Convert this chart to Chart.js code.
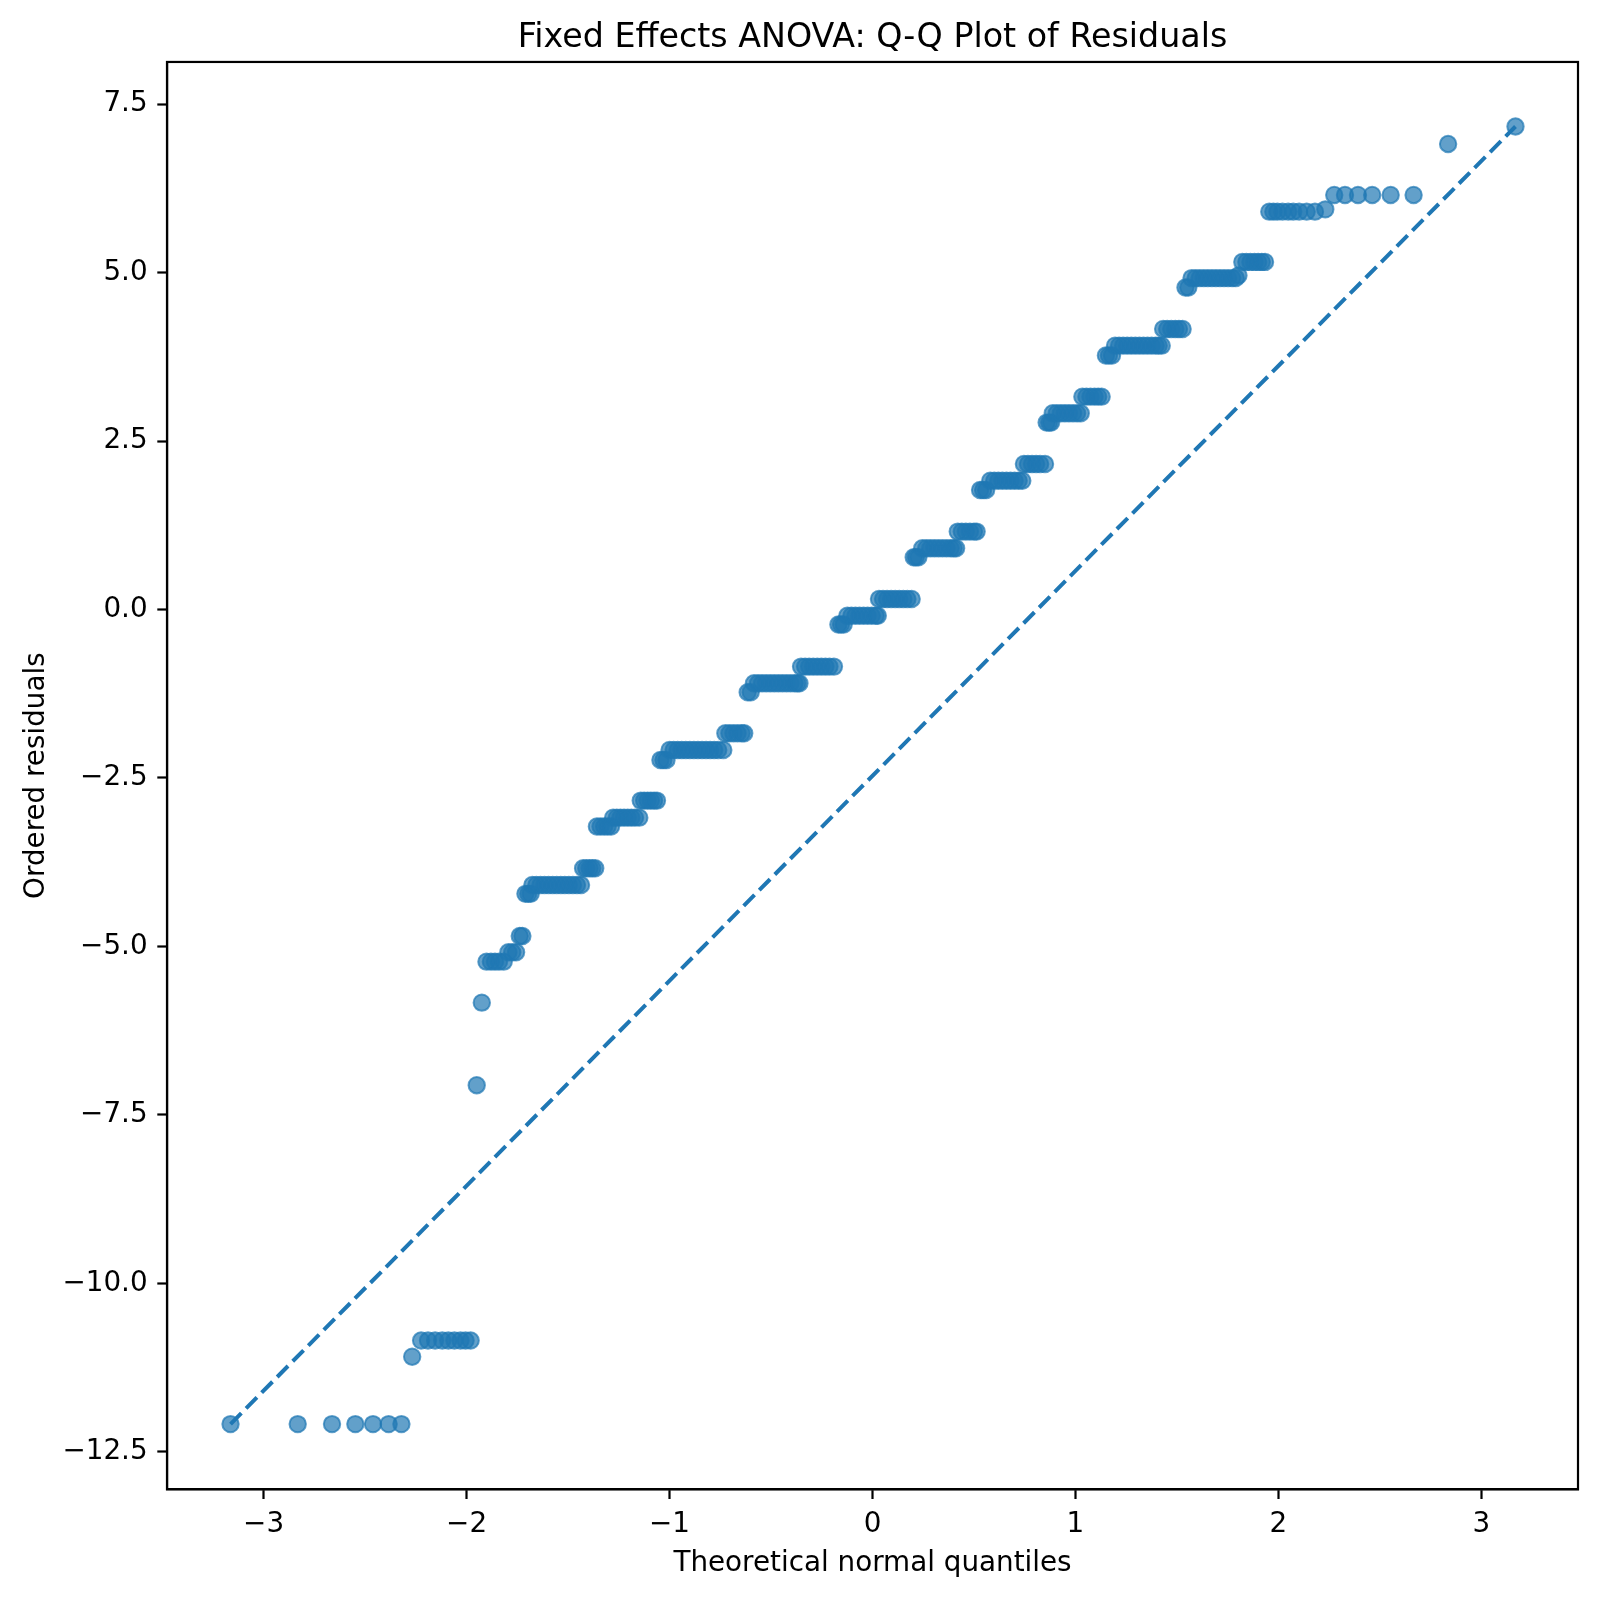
<!DOCTYPE html>
<html>
<head>
<meta charset="utf-8">
<script src="https://cdn.jsdelivr.net/npm/chart.js@4.4.1/dist/chart.umd.min.js"></script>
<style>
  html, body { margin: 0; padding: 0; background: #fff; }
  #wrap { width: 1600px; height: 1597px; }
</style>
</head>
<body>
<div id="wrap"><canvas id="qqChart" width="1600" height="1597"></canvas></div>
<script>
// ordered residual levels (the plateaus)
const residualLevels = [
  -12.09, -11.09, -10.85, -7.06, -5.835, -5.226, -5.087, -4.845, -4.22, -4.088,
  -3.84, -3.22, -3.089, -2.836, -2.232, -2.084, -1.837, -1.228, -1.094, -0.847,
  -0.222, -0.092, 0.157, 0.776, 0.91, 1.157, 1.775, 1.913, 2.161, 2.775,
  2.914, 3.16, 3.77, 3.917, 4.165, 4.78, 4.92, 4.96, 5.16, 5.906,
  5.94, 6.154, 6.91, 7.17
];

// theoretical normal quantiles of the points sitting on each level
const quantilesByLevel = [
  [-3.163, -2.832, -2.663, -2.548, -2.461, -2.384, -2.321],
  [-2.268],
  [-2.224, -2.19, -2.155, -2.12, -2.09, -2.06, -2.03, -2.005, -1.98],
  [-1.95],
  [-1.925],
  [-1.902, -1.88, -1.86, -1.84, -1.817],
  [-1.794, -1.775, -1.756],
  [-1.738, -1.725],
  [-1.71, -1.696, -1.684],
  [-1.676, -1.656, -1.636, -1.616, -1.596, -1.576, -1.556, -1.536, -1.516, -1.496, -1.476, -1.456, -1.436],
  [-1.426, -1.41, -1.394, -1.38, -1.366],
  [-1.358, -1.34, -1.322, -1.305, -1.288],
  [-1.278, -1.26, -1.242, -1.224, -1.206, -1.188, -1.17, -1.149],
  [-1.142, -1.125, -1.108, -1.092, -1.076, -1.062],
  [-1.045, -1.03, -1.015],
  [-1.0, -0.98, -0.96, -0.94, -0.92, -0.9, -0.88, -0.86, -0.84, -0.82, -0.8, -0.78, -0.76, -0.735],
  [-0.725, -0.705, -0.685, -0.665, -0.645, -0.632],
  [-0.615, -0.6],
  [-0.584, -0.564, -0.544, -0.524, -0.504, -0.484, -0.464, -0.444, -0.424, -0.404, -0.384, -0.37, -0.36],
  [-0.352, -0.332, -0.312, -0.292, -0.272, -0.252, -0.232, -0.212, -0.19],
  [-0.168, -0.155, -0.142],
  [-0.124, -0.104, -0.084, -0.064, -0.044, -0.024, -0.004, 0.016, 0.026],
  [0.032, 0.052, 0.072, 0.092, 0.112, 0.132, 0.152, 0.172, 0.193],
  [0.203, 0.214, 0.226],
  [0.245, 0.265, 0.285, 0.305, 0.325, 0.345, 0.365, 0.385, 0.4, 0.412],
  [0.42, 0.44, 0.46, 0.48, 0.5, 0.513],
  [0.53, 0.545, 0.56],
  [0.58, 0.6, 0.62, 0.64, 0.66, 0.68, 0.7, 0.72, 0.738],
  [0.746, 0.766, 0.786, 0.806, 0.826, 0.85],
  [0.858, 0.87, 0.88],
  [0.888, 0.908, 0.928, 0.948, 0.968, 0.988, 1.008, 1.026],
  [1.034, 1.054, 1.074, 1.094, 1.112, 1.129],
  [1.15, 1.165, 1.18],
  [1.195, 1.215, 1.235, 1.255, 1.275, 1.295, 1.315, 1.335, 1.355, 1.375, 1.395, 1.41, 1.425],
  [1.432, 1.452, 1.472, 1.492, 1.51, 1.528],
  [1.542, 1.556],
  [1.572, 1.592, 1.612, 1.632, 1.652, 1.672, 1.692, 1.712, 1.732, 1.752, 1.772, 1.79],
  [1.803],
  [1.822, 1.842, 1.862, 1.882, 1.9, 1.918, 1.934],
  [1.955, 1.975, 1.995, 2.02, 2.048, 2.073, 2.102, 2.139, 2.18],
  [2.231],
  [2.275, 2.328, 2.392, 2.462, 2.553, 2.666],
  [2.836],
  [3.168]
];

const xTickValues = [-3, -2, -1, 0, 1, 2, 3];
const yTickValues = [-12.5, -10, -7.5, -5, -2.5, 0, 2.5, 5, 7.5];

const points = [];
residualLevels.forEach((r, i) => {
  quantilesByLevel[i].forEach(q => points.push({ x: q, y: r }));
});
// reference line joins the lowest and highest point
const refLine = [points[0], points[points.length - 1]];

const FONT = "'DejaVu Sans', sans-serif";
const minus = s => s.replace('-', '\u2212');

const frame = {
  id: 'frame',
  beforeDraw(chart) {
    const c = chart.ctx;
    c.save();
    c.fillStyle = '#fff';
    c.fillRect(0, 0, chart.width, chart.height);
    c.restore();
  },
  afterDraw(chart) {
    const { left, top, right, bottom } = chart.chartArea;
    const c = chart.ctx;
    c.save();
    c.strokeStyle = '#000';
    c.lineWidth = 2.2;
    c.strokeRect(left, top, right - left, bottom - top);
    c.restore();
  }
};

const qq = document.getElementById('qqChart');

new Chart(qq, {
  type: 'scatter',
  data: {
    datasets: [{
      type: 'scatter',
      data: refLine,
      showLine: true,
      borderColor: '#1f77b4',
      borderWidth: 4,
      borderDash: [15.4, 6.7],
      borderCapStyle: 'butt',
      pointRadius: 0,
      fill: false,
      order: 0
    }, {
      type: 'scatter',
      data: points,
      backgroundColor: 'rgba(31,119,180,0.7)',
      borderColor: 'rgba(31,119,180,0.7)',
      pointRadius: 8.2,
      pointBorderWidth: 2,
      order: 1
    }]
  },
  options: {
    responsive: false,
    devicePixelRatio: 1,
    animation: false,
    events: [],
    layout: { padding: { left: 0, right: 22, top: 0, bottom: 0 } },
    plugins: {
      legend: { display: false },
      tooltip: { enabled: false },
      title: {
        display: true,
        text: 'Fixed Effects ANOVA: Q-Q Plot of Residuals',
        color: '#000',
        fullSize: false,
        font: { family: FONT, size: 33.3, weight: 'normal' },
        padding: { top: 18, bottom: 4 }
      }
    },
    scales: {
      x: {
        type: 'linear',
        min: -3.476,
        max: 3.476,
        afterBuildTicks: s => { s.ticks = xTickValues.map(v => ({ value: v })); },
        afterFit: s => { s.height = 107.7; },
        grid: { display: true, drawOnChartArea: false, drawTicks: true, tickLength: 9.7, tickWidth: 2.2, tickColor: '#000' },
        border: { display: true, color: '#000', width: 2.2 },
        ticks: {
          color: '#000',
          padding: 9,
          maxRotation: 0,
          font: { family: FONT, size: 27.8 },
          callback: v => minus(v.toFixed(0))
        },
        title: {
          display: true,
          text: 'Theoretical normal quantiles',
          color: '#000',
          font: { family: FONT, size: 27.8 },
          padding: { top: 0, bottom: 16.5 }
        }
      },
      y: {
        type: 'linear',
        min: -13.058,
        max: 8.128,
        afterBuildTicks: s => { s.ticks = yTickValues.map(v => ({ value: v })); },
        afterFit: s => { s.width = 167; },
        grid: { display: true, drawOnChartArea: false, drawTicks: true, tickLength: 9.7, tickWidth: 2.2, tickColor: '#000' },
        border: { display: true, color: '#000', width: 2.2 },
        ticks: {
          color: '#000',
          padding: 9.7,
          font: { family: FONT, size: 27.8 },
          callback: v => minus(v.toFixed(1))
        },
        title: {
          display: true,
          text: 'Ordered residuals',
          color: '#000',
          font: { family: FONT, size: 27.8 },
          padding: { top: 20, bottom: 0 }
        }
      }
    }
  },
  plugins: [frame]
});
</script>
</body>
</html>
